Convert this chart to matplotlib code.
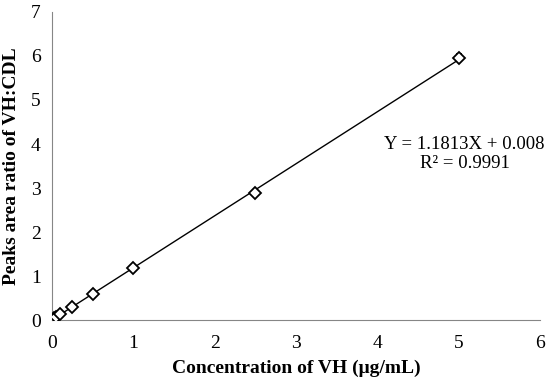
import numpy as np
import matplotlib.pyplot as plt

plt.rcParams['font.family'] = ['Liberation Serif', 'DejaVu Serif']

conc = [0.025, 0.05, 0.1, 0.25, 0.5, 1.0, 2.5, 5.0]
ratio = [0.04, 0.07, 0.14, 0.30, 0.60, 1.19, 2.88, 5.96]
err = [0.01, 0.01, 0.01, 0.02, 0.02, 0.03, 0.04, 0.08]
slope = 1.1813
intercept = 0.008

fig = plt.figure(figsize=(5.5, 3.83), dpi=100)
ax = fig.add_axes([0.0945, 0.164, 0.8875, 0.805])

xfit = np.array([0.0, 5.0])
ax.plot(xfit, slope * xfit + intercept, color='black', lw=1)
ax.errorbar(conc, ratio, yerr=err, fmt='D', ms=6, mfc='white', mec='black',
            mew=1.3, ecolor='black', elinewidth=1, capsize=2, zorder=3)

ax.text(5.07, 3.98, 'Y = 1.1813X + 0.008', ha='center', va='center', fontsize=13.5)
ax.text(5.07, 3.55, 'R² = 0.9991', ha='center', va='center', fontsize=13.5)

ax.set_xlim(0, 6)
ax.set_ylim(0, 7)
ax.set_xticks(range(0, 7))
ax.set_yticks(range(0, 8))
ax.tick_params(length=0, labelsize=14)
ax.tick_params(axis='x', pad=11)
ax.tick_params(axis='y', pad=8)
for s in ['top', 'right']:
    ax.spines[s].set_visible(False)
for s in ['left', 'bottom']:
    ax.spines[s].set_color('#868686')
ax.set_xlabel('Concentration of VH (μg/mL)', fontsize=14, fontweight='bold', labelpad=5)
ax.set_ylabel('Peaks area ratio of VH:CDL', fontsize=14, fontweight='bold', labelpad=8)

fig.savefig('out.png', dpi=100)
